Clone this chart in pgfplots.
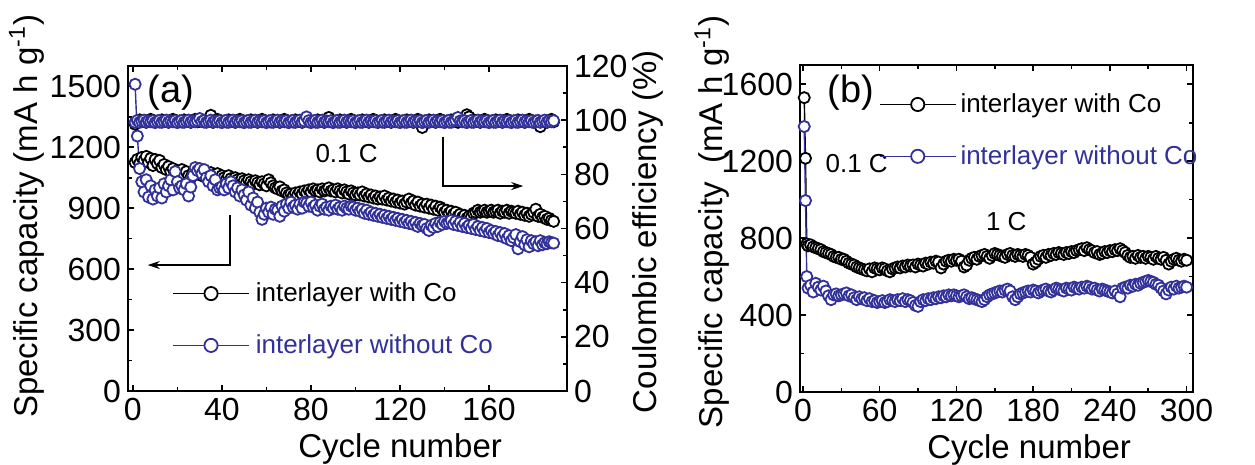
\documentclass[border=0pt]{standalone}
\usepackage{pgfplots}
\pgfplotsset{compat=1.18}
\usepackage{pgfplotstable}
\usepackage{fontspec}
\setmainfont{Liberation Sans}
\usetikzlibrary{arrows.meta}
\definecolor{cblue}{RGB}{49,49,153}

\pgfplotstableread{
c co no ceco ceno
1 1125 1510 98.5 99.2
2 1140 1255 99.3 99.9
3 1120 1095 100.1 99.2
4 1150 1030 99.5 99.6
5 1135 980 99.9 100.0
6 1155 1040 99.2 99.3
7 1125 955 99.8 99.7
8 1145 1010 100.3 99.4
9 1110 945 99.4 99.8
10 1140 990 99.6 99.1
11 1120 960 99.7 99.5
12 1135 1000 99.3 99.9
13 1100 950 100.1 99.2
14 1115 1020 99.5 99.6
15 1090 980 99.9 100.0
16 1105 1010 99.2 99.3
17 1080 1040 99.8 99.7
18 1095 990 100.3 99.4
19 1070 1080 99.4 99.8
20 1085 1030 99.6 99.1
21 1075 1000 99.7 99.5
22 1090 1010 99.3 99.9
23 1065 990 100.1 99.2
24 1080 1020 99.5 99.6
25 1060 960 99.9 100.0
26 1050 1004 99.2 99.3
27 1075 1060 99.8 99.7
28 1065 1100 100.3 99.4
29 1085 1085 99.4 99.8
30 1070 1095 99.6 100.6
31 1060 1070 99.7 99.5
32 1080 1090 99.3 99.9
33 1065 1050 100.1 99.2
34 1055 1030 99.5 99.6
35 1075 1060 101.8 100.0
36 1060 1010 99.2 99.3
37 1050 1040 99.8 99.7
38 1070 990 100.3 99.4
39 1045 1000 99.4 99.8
40 1060 1005 99.6 99.1
41 1050 990 99.7 99.5
42 1040 1020 99.3 99.9
43 1060 1000 100.1 99.2
44 1045 1030 99.5 99.6
45 1035 1010 99.9 100.0
46 1050 980 99.2 99.3
47 1040 1000 99.8 99.7
48 1030 960 100.3 99.4
49 1045 990 99.4 99.8
50 1035 965 99.6 99.1
51 1025 940 99.7 99.5
52 1040 980 99.3 99.9
53 1030 915 100.1 99.2
54 1020 950 99.5 99.6
55 1035 900 99.9 100.0
56 1025 930 99.2 99.3
57 1015 880 99.8 99.7
58 1030 845 100.3 99.4
59 1020 870 99.4 99.8
60 1010 900 99.6 99.1
61 1040 880 99.7 99.5
62 1025 905 99.3 99.9
63 1010 870 100.1 99.2
64 1000 895 99.5 99.6
65 995 890 99.9 100.0
66 1005 860 99.2 99.3
67 985 910 99.8 99.7
68 990 885 100.3 99.4
69 975 920 99.4 99.8
70 965 900 99.6 99.1
71 970 930 99.7 99.5
72 960 905 99.3 99.9
73 975 915 100.1 99.2
74 965 895 99.5 99.6
75 980 920 99.9 100.0
76 970 900 99.2 99.3
77 985 930 99.8 99.7
78 975 925 100.3 101.2
79 990 910 99.4 99.8
80 980 930 99.6 99.1
81 995 905 99.7 99.5
82 985 915 99.3 99.9
83 990 890 100.1 99.2
84 980 910 99.5 99.6
85 995 920 99.9 100.0
86 985 895 99.2 99.3
87 990 905 99.8 99.7
88 1000 890 101.0 99.4
89 985 910 99.4 99.8
90 990 900 99.6 99.1
91 980 915 99.7 99.5
92 995 895 99.3 99.9
93 985 905 100.1 99.2
94 975 890 99.5 99.6
95 990 910 99.9 100.0
96 980 900 99.2 99.3
97 970 895 99.8 99.7
98 985 910 100.3 99.4
99 975 905 99.4 99.8
100 965 890 99.6 99.1
101 975 900 99.7 99.5
102 965 885 99.3 99.9
103 980 895 100.1 99.2
104 960 875 99.5 99.6
105 970 890 99.9 100.0
106 955 870 99.2 99.3
107 965 880 99.8 99.7
108 950 865 100.3 99.4
109 960 875 99.4 99.8
110 945 860 99.6 99.1
111 955 870 99.7 99.5
112 945 855 99.3 99.9
113 960 865 100.1 99.2
114 940 850 99.5 99.6
115 950 860 99.9 100.0
116 935 845 99.2 99.3
117 945 855 99.8 99.7
118 930 840 100.3 99.4
119 940 850 99.4 99.8
120 925 835 99.6 99.1
121 935 845 99.7 99.5
122 920 830 99.3 99.9
123 930 840 100.1 99.2
124 945 825 99.5 99.6
125 925 835 99.9 100.0
126 935 820 99.2 99.3
127 915 830 99.8 99.7
128 930 810 100.3 99.4
129 910 825 99.4 99.8
130 920 815 97.3 99.1
131 905 820 99.7 99.5
132 920 800 99.3 99.9
133 900 790 100.1 99.2
134 915 815 99.5 99.6
135 895 805 99.9 100.0
136 910 825 99.2 99.3
137 890 810 99.8 99.7
138 905 830 100.3 99.4
139 895 820 99.4 99.8
140 880 835 99.6 99.1
141 890 825 99.7 99.5
142 875 830 99.3 99.9
143 885 840 100.1 99.2
144 870 820 99.5 99.6
145 880 835 99.9 100.0
146 860 815 99.2 101.0
147 870 830 99.8 99.7
148 855 810 100.3 99.4
149 865 825 99.4 99.8
150 850 805 102.0 99.1
151 860 815 101.2 99.5
152 855 800 99.3 99.9
153 875 820 100.1 99.2
154 880 795 99.5 99.6
155 890 810 99.9 100.0
156 880 790 99.2 99.3
157 885 805 99.8 99.7
158 890 785 100.3 99.4
159 880 800 99.4 99.8
160 885 780 99.6 99.1
161 890 790 99.7 99.5
162 880 775 99.3 99.9
163 885 785 100.1 99.2
164 890 765 99.5 99.6
165 875 780 99.9 100.0
166 885 760 99.2 99.3
167 880 775 99.8 99.7
168 890 750 100.3 99.4
169 875 765 99.4 99.8
170 885 740 99.6 99.1
171 880 755 99.7 99.5
172 875 770 99.3 99.9
173 885 700 100.1 99.2
174 870 735 99.5 99.6
175 880 760 99.9 100.0
176 865 720 99.2 99.3
177 875 745 99.8 99.7
178 860 710 100.3 99.4
179 870 740 99.4 99.8
180 880 725 99.6 99.1
181 895 735 99.7 99.5
182 860 715 99.3 99.9
183 870 740 97.6 99.2
184 855 720 99.5 99.6
185 860 730 99.9 100.0
186 845 725 99.2 99.3
187 850 735 99.8 99.7
188 840 730 100.3 99.4
189 835 728 99.4 99.8
}\dataA

\pgfplotstableread{
c co no
1 1530 1380
2 1215 995
3 770 600
4 760 540
6 765 555
8 755 520
10 750 565
12 745 545
14 740 530
16 730 550
18 725 525
20 720 500
22 715 480
24 705 505
26 700 510
28 700 500
30 690 505
32 690 510
34 680 515
36 670 500
38 665 505
40 660 490
42 650 480
44 645 495
46 640 485
48 635 490
50 630 475
52 640 485
54 625 470
56 645 475
58 640 465
60 635 470
62 645 475
64 640 465
66 630 470
68 625 480
70 640 475
72 645 470
74 650 480
76 645 475
78 655 485
80 650 470
82 660 480
84 655 475
86 660 465
88 650 450
90 665 445
92 660 470
94 655 480
96 670 475
98 665 485
100 675 480
102 670 490
104 680 485
106 675 495
108 645 490
110 665 500
112 680 495
114 685 505
116 680 500
118 690 505
120 685 500
122 690 495
124 680 500
126 650 505
128 660 495
130 685 485
132 695 490
134 700 485
136 690 480
138 705 475
140 710 470
142 715 480
144 705 495
146 695 505
148 710 510
150 720 515
152 715 520
154 710 525
156 705 520
158 700 530
160 715 535
162 720 525
164 710 495
166 705 480
168 715 495
170 710 510
172 705 515
174 715 520
176 710 525
178 700 520
180 665 530
182 675 525
184 690 515
186 705 525
188 710 530
190 700 535
192 715 525
194 710 520
196 720 530
198 715 540
200 725 535
202 720 530
204 715 525
206 725 540
208 720 535
210 730 530
212 725 545
214 735 540
216 740 535
218 745 545
220 735 540
222 750 550
224 740 545
226 735 535
228 725 540
230 730 530
232 715 525
234 720 535
236 730 530
238 725 525
240 735 520
242 730 515
244 740 525
246 735 510
248 745 495
250 735 540
252 725 545
254 710 540
256 700 555
258 705 550
260 695 560
262 710 555
264 700 565
266 705 570
268 695 575
270 705 580
272 700 575
274 690 570
276 705 560
278 695 555
280 690 540
282 700 525
284 685 510
286 665 530
288 680 545
290 690 535
292 695 550
294 685 540
296 680 545
298 690 550
300 685 545
}\dataB

\pgfplotsset{
  common/.style={
    scale only axis,
    tick align=inside,
    axis line style={line width=0.9pt},
    major tick length=3pt,
    minor tick length=1.8pt,
    every tick/.style={line width=0.8pt, black},
    tick label style={font=\fontsize{16}{18}\selectfont},
    label style={font=\fontsize{16.5}{19}\selectfont},
    /pgf/number format/assume math mode=true,
    /pgf/number format/1000 sep={},
    legend image code/.code={\draw[mark repeat=2,mark phase=2,#1,mark size=3.3pt,line width=0.75pt] plot coordinates {(0pt,0pt) (19pt,0pt) (38pt,0pt)};},
  },
  sblack/.style={black, line width=0.7pt, mark=*, mark size=2.8pt, mark options={fill=white, draw=black, line width=0.9pt}},
  sblue/.style={cblue, line width=0.7pt, mark=*, mark size=2.8pt, mark options={fill=white, draw=cblue, line width=0.9pt}},
}

\begin{document}
\begin{tikzpicture}
\useasboundingbox (0,0) rectangle (627.5pt,232.5pt);

% ---------- panel (a), capacity ----------
\begin{axis}[common,
  at={(64pt,37pt)}, anchor=south west,
  width=219.5pt, height=162.5pt,
  xmin=-2.2, xmax=195, ymin=0, ymax=1600,
  xtick={0,40,...,160}, minor x tick num=1,
  ytick={0,300,...,1500}, minor y tick num=1,
  ytick pos=left,
  xlabel={Cycle number},
  ylabel={Specific capacity (mA h g\textsuperscript{-1})},
  xlabel style={at={(axis description cs:0.62,-0.13)}, anchor=north, inner sep=0pt},
  ylabel style={at={(axis description cs:-0.19,0.537)}, anchor=south, inner sep=0pt},
  legend style={draw=none, fill=none, at={(axis description cs:0.1,0.22)}, anchor=west,
    font=\fontsize{13}{15}\selectfont, row sep=13pt, column sep=2pt, inner sep=0pt, nodes={inner sep=1pt}},
  legend cell align=left,
]
\addplot[sblack] table[x=c, y=co] {\dataA};
\addlegendentry{interlayer with Co}
\addplot[sblue] table[x=c, y=no] {\dataA};
\addlegendentry{\textcolor{cblue}{interlayer without Co}}
\node[font=\fontsize{19}{22}\selectfont] at (axis cs:17,1467) {(a)};
\node[font=\fontsize{13}{15}\selectfont] at (axis cs:96,1167) {0.1 C};
\draw[line width=0.8pt, -{Stealth[length=6pt,width=4pt]}] (axis cs:43.6,866) -- (axis cs:43.6,620) -- (axis cs:6.7,620);
\draw[line width=0.8pt, -{Stealth[length=6pt,width=4pt]}] (axis cs:139.3,1251) -- (axis cs:139.3,1009) -- (axis cs:175.3,1009);
\end{axis}

% ---------- panel (a), coulombic efficiency ----------
\begin{axis}[common,
  at={(64pt,37pt)}, anchor=south west,
  width=219.5pt, height=162.5pt,
  xmin=-2.2, xmax=195, ymin=0, ymax=120,
  axis x line=none, axis y line*=right,
  ytick={0,20,...,120}, minor y tick num=1,
  ylabel={Coulombic efficiency (\%)},
  ylabel style={at={(axis description cs:1.22,0.49)}, anchor=south, inner sep=0pt, rotate=0},
]
\addplot[sblack] table[x=c, y=ceco] {\dataA};
\addplot[sblue] table[x=c, y=ceno] {\dataA};
\end{axis}

% ---------- panel (b) ----------
\begin{axis}[common,
  at={(400pt,36.5pt)}, anchor=south west,
  width=196.5pt, height=163.5pt,
  xmin=-2.3, xmax=305, ymin=0, ymax=1700,
  xtick={0,60,...,300}, minor x tick num=1,
  ytick={0,400,...,1600}, minor y tick num=1,
  xlabel={Cycle number},
  ylabel={Specific capacity\ \ (mA h g\textsuperscript{-1})},
  xlabel style={at={(axis description cs:0.583,-0.128)}, anchor=north, inner sep=0pt},
  ylabel style={at={(axis description cs:-0.178,0.52)}, anchor=south, inner sep=0pt},
  legend style={draw=none, fill=none, at={(axis description cs:0.2,0.80)}, anchor=west,
    font=\fontsize{13}{15}\selectfont, row sep=13pt, column sep=1pt, inner sep=0pt, nodes={inner sep=1pt}},
  legend cell align=left,
]
\addplot[sblack] table[x=c, y=co] {\dataB};
\addlegendentry{interlayer with Co}
\addplot[sblue] table[x=c, y=no] {\dataB};
\addlegendentry{\textcolor{cblue}{interlayer without Co}}
\node[font=\fontsize{19}{22}\selectfont] at (axis cs:37.5,1554) {(b)};
\node[font=\fontsize{13}{15}\selectfont] at (axis cs:42,1190) {0.1 C};
\node[font=\fontsize{13}{15}\selectfont] at (axis cs:159,884) {1 C};
\end{axis}
\end{tikzpicture}
\end{document}
